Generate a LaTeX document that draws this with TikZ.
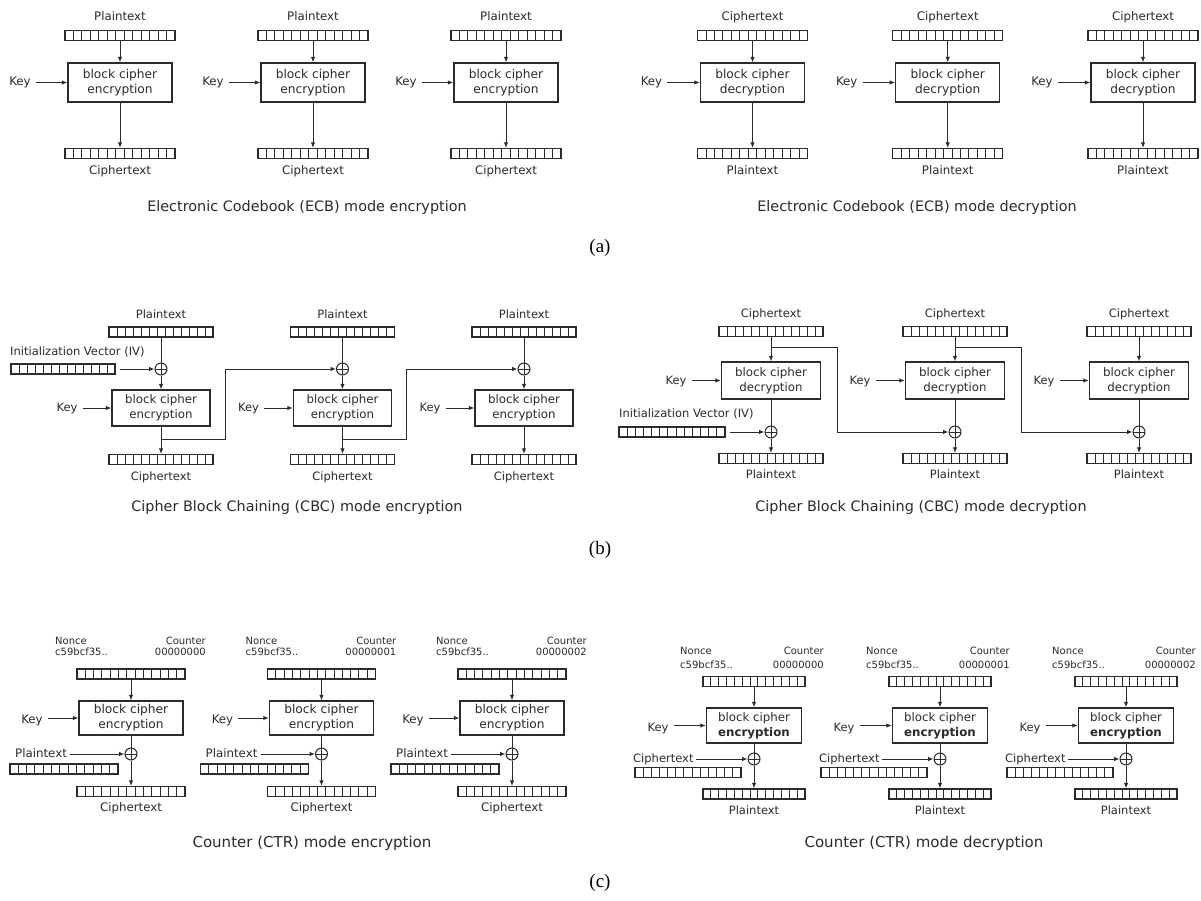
\documentclass[tikz,border=0pt]{standalone}
\usepackage{fontspec}
\setmainfont{Liberation Serif}
\newfontfamily\djv{DejaVu Sans}
\usetikzlibrary{arrows.meta,calc}
\definecolor{inkc}{gray}{0.17}
\newcommand\lblfont{\djv\fontsize{11.8}{15}\selectfont}
\newcommand\lblfontb{\djv\fontsize{11.5}{15}\selectfont}
\newcommand\boxfont{\djv\fontsize{12.2}{15}\selectfont}
\newcommand\boxfontb{\djv\fontsize{11.8}{15}\selectfont}
\newcommand\nctfont{\djv\fontsize{10}{12}\selectfont}
\newcommand\capfont{\djv\fontsize{14.4}{17}\selectfont}
\newcommand\tagfont{\fontsize{19}{22}\selectfont}

\tikzset{
  wire/.style={draw=inkc, line width=1pt},
  arr/.style={wire, -{Latex[length=5.5pt,width=4.5pt]}},
  lbl/.style={font=\lblfont, text=inkc, inner sep=0pt},
  lblb/.style={font=\lblfontb, text=inkc, inner sep=0pt},
  nct/.style={font=\nctfont, text=inkc, inner sep=0pt},
  capt/.style={font=\capfont, text=inkc, inner sep=0pt, anchor=base},
  tag/.style={font=\tagfont, text=black, inner sep=0pt, anchor=base},
  reg/.style={draw=inkc, line width=1.2pt, minimum width=#1, minimum height=10pt,
    inner sep=0pt,
    path picture={
      \foreach \k in {1,...,12}{
        \draw[inkc, line width=0.9pt]
          ($(path picture bounding box.south west)!\k/13!(path picture bounding box.south east)$) --
          ($(path picture bounding box.north west)!\k/13!(path picture bounding box.north east)$);
      }
    }},
  cbox/.style={draw=inkc, line width=1.3pt, align=center, font=\boxfont,
    text=inkc, inner sep=0pt},
  xor/.style={circle, draw=inkc, line width=1pt, minimum size=12pt, inner sep=0pt,
    path picture={
      \draw[inkc, line width=1pt]
        (path picture bounding box.north) -- (path picture bounding box.south)
        (path picture bounding box.west) -- (path picture bounding box.east);
    }},
}

\begin{document}
\begin{tikzpicture}[x=1pt, y=-1pt]
\fill[white] (0,0) rectangle (1201,901);
\useasboundingbox (0,0) rectangle (1201,901);

% ---------------- ECB encryption ----------------
\foreach \i [evaluate=\i as \cx using 120+193*\i] in {0,1,2}{
  \node[lbl, anchor=base] (ecbe\i-in) at (\cx,21) {Plaintext};
  \node[reg=110] (ecbe\i-r1) at (\cx,35.5) {};
  \node[cbox, minimum width=104, minimum height=39] (ecbe\i-bc) at (\cx,82.5) {block cipher\\encryption};
  \node[lbl, anchor=base] (ecbe\i-k) at (\cx-100,86) {Key};
  \node[reg=110] (ecbe\i-r2) at (\cx,153.5) {};
  \node[lbl, anchor=base] (ecbe\i-out) at (\cx,175) {Ciphertext};
  \draw[arr] (ecbe\i-r1) -- (ecbe\i-bc);
  \draw[arr] (ecbe\i-bc) -- (ecbe\i-r2);
  \draw[arr] ($(ecbe\i-k.east |- ecbe\i-bc.west)+(5,0)$) -- (ecbe\i-bc.west);
}
\node[capt] (cap-ecbe) at (307,212) {Electronic Codebook (ECB) mode encryption};

% ---------------- ECB decryption ----------------
\foreach \i [evaluate=\i as \cx using 752.5+195.25*\i] in {0,1,2}{
  \node[lbl, anchor=base] (ecbd\i-in) at (\cx,21) {Ciphertext};
  \node[reg=110] (ecbd\i-r1) at (\cx,35.5) {};
  \node[cbox, minimum width=104, minimum height=39] (ecbd\i-bc) at (\cx,82.5) {block cipher\\decryption};
  \node[lbl, anchor=base] (ecbd\i-k) at (\cx-101,86) {Key};
  \node[reg=110] (ecbd\i-r2) at (\cx,153.5) {};
  \node[lbl, anchor=base] (ecbd\i-out) at (\cx,175) {Plaintext};
  \draw[arr] (ecbd\i-r1) -- (ecbd\i-bc);
  \draw[arr] (ecbd\i-bc) -- (ecbd\i-r2);
  \draw[arr] ($(ecbd\i-k.east |- ecbd\i-bc.west)+(5,0)$) -- (ecbd\i-bc.west);
}
\node[capt] (cap-ecbd) at (917,212) {Electronic Codebook (ECB) mode decryption};
\node[tag] (tag-a) at (600,252) {(a)};

% ---------------- CBC encryption ----------------
\foreach \i [evaluate=\i as \cx using 161+181.5*\i] in {0,1,2}{
  \node[lblb, anchor=base] (cbce\i-in) at (\cx,318) {Plaintext};
  \node[reg=104] (cbce\i-r1) at (\cx,332) {};
  \node[xor] (cbce\i-x) at (\cx,369) {};
  \node[cbox, font=\boxfontb, minimum width=98, minimum height=36] (cbce\i-bc) at (\cx,408) {block cipher\\encryption};
  \node[lblb, anchor=base] (cbce\i-k) at (\cx-94,411) {Key};
  \node[reg=104] (cbce\i-r2) at (\cx,459.5) {};
  \node[lblb, anchor=base] (cbce\i-out) at (\cx,480) {Ciphertext};
  \coordinate (cbce\i-j) at (\cx,439);
  \draw[wire] (cbce\i-r1) -- (cbce\i-x);
  \draw[arr] (cbce\i-x) -- (cbce\i-bc);
  \draw[arr] (cbce\i-bc) -- (cbce\i-r2);
  \draw[arr] ($(cbce\i-k.east |- cbce\i-bc.west)+(5,0)$) -- (cbce\i-bc.west);
}
\node[lblb, anchor=base west] (cbce-ivl) at (10,355) {Initialization Vector (IV)};
\node[reg=104] (cbce-iv) at (63,369) {};
\draw[arr] ($(cbce-iv.east |- cbce0-x.west)+(4,0)$) -- (cbce0-x.west);
\draw[arr] (cbce0-j) -- ++(64,0) |- (cbce1-x);
\draw[arr] (cbce1-j) -- ++(64,0) |- (cbce2-x);
\node[capt] (cap-cbce) at (297,511) {Cipher Block Chaining (CBC) mode encryption};

% ---------------- CBC decryption ----------------
\foreach \i [evaluate=\i as \cx using 771+184*\i] in {0,1,2}{
  \node[lblb, anchor=base] (cbcd\i-in) at (\cx,317) {Ciphertext};
  \node[reg=104] (cbcd\i-r1) at (\cx,331.5) {};
  \node[cbox, font=\boxfontb, minimum width=99, minimum height=37] (cbcd\i-bc) at (\cx,380.5) {block cipher\\decryption};
  \node[lblb, anchor=base] (cbcd\i-k) at (\cx-95,384) {Key};
  \node[xor] (cbcd\i-x) at (\cx,432) {};
  \node[reg=104] (cbcd\i-r2) at (\cx,458.5) {};
  \node[lblb, anchor=base] (cbcd\i-out) at (\cx,478) {Plaintext};
  \coordinate (cbcd\i-j) at (\cx,347);
  \draw[arr] (cbcd\i-r1) -- (cbcd\i-bc);
  \draw[wire] (cbcd\i-bc) -- (cbcd\i-x);
  \draw[arr] (cbcd\i-x) -- (cbcd\i-r2);
  \draw[arr] ($(cbcd\i-k.east |- cbcd\i-bc.west)+(5,0)$) -- (cbcd\i-bc.west);
}
\node[lblb, anchor=base west] (cbcd-ivl) at (619,417) {Initialization Vector (IV)};
\node[reg=106] (cbcd-iv) at (672,432) {};
\draw[arr] ($(cbcd-iv.east |- cbcd0-x.west)+(4,0)$) -- (cbcd0-x.west);
\draw[arr] (cbcd0-j) -- ++(66,0) |- (cbcd1-x);
\draw[arr] (cbcd1-j) -- ++(66,0) |- (cbcd2-x);
\node[capt] (cap-cbcd) at (921,511) {Cipher Block Chaining (CBC) mode decryption};
\node[tag] (tag-b) at (600,554) {(b)};

% ---------------- CTR encryption ----------------
\foreach \i/\cnt [evaluate=\i as \cx using 131+190.5*\i] in {0/00000000,1/00000001,2/00000002}{
  \node[nct, anchor=base west] (ctre\i-n) at (\cx-76,644) {Nonce};
  \node[nct, anchor=base east] (ctre\i-c) at (\cx+75,644) {Counter};
  \node[nct, anchor=base west] (ctre\i-nv) at (\cx-76,655) {c59bcf35..};
  \node[nct, anchor=base east] (ctre\i-cv) at (\cx+75,655) {\cnt};
  \node[reg=108] (ctre\i-r1) at (\cx,674) {};
  \node[cbox, minimum width=104, minimum height=34] (ctre\i-bc) at (\cx,718) {block cipher\\encryption};
  \node[lbl, anchor=base] (ctre\i-k) at (\cx-99,723) {Key};
  \node[xor] (ctre\i-x) at (\cx,754) {};
  \node[lbl, anchor=base west] (ctre\i-pl) at (\cx-116,757) {Plaintext};
  \node[reg=108] (ctre\i-pr) at (\cx-67,769) {};
  \node[reg=108] (ctre\i-r2) at (\cx,791.5) {};
  \node[lbl, anchor=base] (ctre\i-out) at (\cx,811) {Ciphertext};
  \draw[arr] (ctre\i-r1) -- (ctre\i-bc);
  \draw[arr] ($(ctre\i-k.east |- ctre\i-bc.west)+(5,0)$) -- (ctre\i-bc.west);
  \draw[wire] (ctre\i-bc) -- (ctre\i-x);
  \draw[arr] ($(ctre\i-pl.east |- ctre\i-x.west)+(3,0)$) -- (ctre\i-x.west);
  \draw[arr] (ctre\i-x) -- (ctre\i-r2);
}
\node[capt, font=\djv\fontsize{15}{17}\selectfont] (cap-ctre) at (312,847) {Counter (CTR) mode encryption};

% ---------------- CTR decryption ----------------
\foreach \i/\cnt [evaluate=\i as \cx using 754+186*\i] in {0/00000000,1/00000001,2/00000002}{
  \node[nct, anchor=base west] (ctrd\i-n) at (\cx-74,654) {Nonce};
  \node[nct, anchor=base east] (ctrd\i-c) at (\cx+70,654) {Counter};
  \node[nct, anchor=base west] (ctrd\i-nv) at (\cx-74,668) {c59bcf35..};
  \node[nct, anchor=base east] (ctrd\i-cv) at (\cx+70,668) {\cnt};
  \node[reg=102] (ctrd\i-r1) at (\cx,681.5) {};
  \node[cbox, font=\boxfontb, minimum width=95, minimum height=35] (ctrd\i-bc) at (\cx,725.5) {block cipher\\\textbf{encryption}};
  \node[lblb, anchor=base] (ctrd\i-k) at (\cx-96,731) {Key};
  \node[xor] (ctrd\i-x) at (\cx,759) {};
  \node[lblb, anchor=base west] (ctrd\i-cl) at (\cx-121,762) {Ciphertext};
  \node[reg=106] (ctrd\i-cr) at (\cx-66,772.5) {};
  \node[reg=102] (ctrd\i-r2) at (\cx,794) {};
  \node[lblb, anchor=base] (ctrd\i-out) at (\cx,814) {Plaintext};
  \draw[arr] (ctrd\i-r1) -- (ctrd\i-bc);
  \draw[arr] ($(ctrd\i-k.east |- ctrd\i-bc.west)+(5,0)$) -- (ctrd\i-bc.west);
  \draw[wire] (ctrd\i-bc) -- (ctrd\i-x);
  \draw[arr] ($(ctrd\i-cl.east |- ctrd\i-x.west)+(2,0)$) -- (ctrd\i-x.west);
  \draw[arr] (ctrd\i-x) -- (ctrd\i-r2);
}
\node[capt, font=\djv\fontsize{15}{17}\selectfont] (cap-ctrd) at (924,847) {Counter (CTR) mode decryption};
\node[tag] (tag-c) at (600,887) {(c)};
\end{tikzpicture}
\end{document}
